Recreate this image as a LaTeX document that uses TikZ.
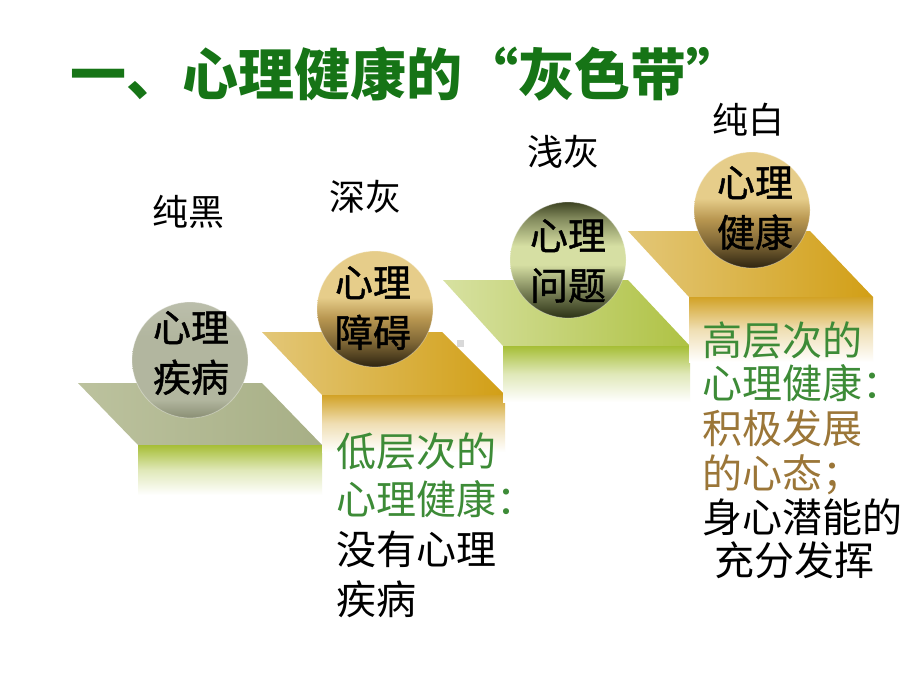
\documentclass[tikz,border=0pt]{standalone}
\usepackage{fontspec}
\newfontfamily\cjk{Noto Sans CJK SC}
\newfontfamily\cjkm[FakeBold=1.2]{Noto Sans CJK SC}
\definecolor{titlegreen}{HTML}{167416}
\definecolor{txtgreen}{HTML}{3D8B37}
\definecolor{txtbrown}{HTML}{9B7638}
\definecolor{sAl}{HTML}{BCC29E}
\definecolor{sAr}{HTML}{A7AF86}
\definecolor{goldL}{HTML}{E3C778}
\definecolor{goldR}{HTML}{D29F16}
\definecolor{grnL}{HTML}{D7E1A1}
\definecolor{grnR}{HTML}{AFC244}
\definecolor{frontgrn}{HTML}{A6BE36}
\definecolor{frontgold}{HTML}{D2A226}
\definecolor{ballgoldL}{HTML}{E6CD8A}
\definecolor{ballgoldM}{HTML}{B89650}
\definecolor{ballgoldD}{HTML}{2E2410}
\definecolor{ballgrnT}{HTML}{3D4322}
\definecolor{ballgrnM}{HTML}{D6DFA3}
\definecolor{ballgrnD}{HTML}{2C3216}
\definecolor{ballgrayT}{HTML}{BBBEAB}
\definecolor{ballgrayM}{HTML}{B2B69F}
\definecolor{ballgrayD}{HTML}{8A8F74}
\pgfdeclareverticalshading{goldball}{100bp}{color(0bp)=(ballgoldD); color(25bp)=(ballgoldD); color(36bp)=(ballgoldM!60!ballgoldD); color(46bp)=(ballgoldM); color(55bp)=(ballgoldL); color(100bp)=(ballgoldL)}
\pgfdeclareverticalshading{greenball}{100bp}{color(0bp)=(ballgrnD); color(25bp)=(ballgrnD); color(36bp)=(ballgrnM!45!ballgrnD); color(48bp)=(ballgrnM); color(56bp)=(ballgrnM); color(68bp)=(ballgrnM!45!ballgrnT); color(75bp)=(ballgrnT); color(100bp)=(ballgrnT)}
\pgfdeclareverticalshading{grayball}{100bp}{color(0bp)=(ballgrayD); color(25bp)=(ballgrayD); color(33bp)=(ballgrayM); color(60bp)=(ballgrayM); color(75bp)=(ballgrayT); color(100bp)=(ballgrayT)}
\tikzset{
  lbl/.style={font=\cjk\fontsize{36}{40}\selectfont, text=black, inner sep=0pt},
  ctext/.style={font=\cjkm\fontsize{38}{50}\selectfont, text=black, align=center, inner sep=0pt},
  body/.style={font=\cjk\fontsize{40}{44}\selectfont, anchor=base west, inner sep=0pt},
  ball/.style={draw=white, draw opacity=0.35, line width=0.8pt}
}
\begin{document}
\begin{tikzpicture}[x=1pt,y=-1pt]
\useasboundingbox (0,0) rectangle (920,690);
\fill[white] (0,0) rectangle (920,690);

% title
\node[font=\cjk\bfseries\fontsize{56}{60}\selectfont, text=titlegreen, anchor=base west, inner sep=0pt] (title) at (70,96) {一、心理健康的“灰色带”};

% step 1
\shade[left color=sAl, right color=sAr] (78,383) -- (262,383) -- (322,445) -- (138,445) -- cycle;
\shade[top color=frontgrn, bottom color=white, middle color=frontgrn!35] (138,445) rectangle (322,495);
% step 2
\shade[left color=goldL, right color=goldR] (262,332) -- (442,332) -- (505,395) -- (322,395) -- cycle;
\shade[top color=frontgold, bottom color=white, middle color=frontgold!35] (322,395) rectangle (505,452);
% step 3
\shade[left color=grnL, right color=grnR] (443,280) -- (628,280) -- (690,346) -- (503,346) -- cycle;
\shade[top color=frontgrn, bottom color=white, middle color=frontgrn!35] (503,346) rectangle (690,402);
% step 4
\shade[left color=goldL, right color=goldR] (628,231) -- (810,231) -- (873,297) -- (689,297) -- cycle;
\shade[top color=frontgold, bottom color=white, middle color=frontgold!35] (689,297) rectangle (873,362);

\fill[black!15] (457,340) rectangle (464,347);

% balls
\shade[shading=grayball, ball] (190,360) circle[radius=58];
\shade[shading=goldball, ball] (375,309) circle[radius=58];
\shade[shading=greenball, ball] (568,260) circle[radius=58];
\shade[shading=goldball, ball] (752,210) circle[radius=58];

\node[ctext] (b1) at (191,353) {心理\\疾病};
\node[ctext] (b2) at (373,308) {心理\\障碍};
\node[ctext] (b3) at (568,261) {心理\\问题};
\node[ctext] (b4) at (755,208) {心理\\健康};

% labels
\node[lbl] (l1) at (188,212) {纯黑};
\node[lbl] (l2) at (365,197) {深灰};
\node[lbl] (l3) at (563,152) {浅灰};
\node[lbl] (l4) at (748,120) {纯白};

% left text
\node[body, text=txtgreen] (a1) at (336,466) {低层次的};
\node[body, text=txtgreen] (a2) at (336,514) {心理健康：};
\node[body, text=black] (a3) at (336,564) {没有心理};
\node[body, text=black] (a4) at (336,614) {疾病};

% right text
\node[body, text=txtgreen] (r1) at (702,355) {高层次的};
\node[body, text=txtgreen] (r2) at (702,398) {心理健康：};
\node[body, text=txtbrown] (r3) at (702,443) {积极发展};
\node[body, text=txtbrown] (r4) at (702,488) {的心态；};
\node[body, text=black] (r5) at (702,532) {身心潜能的};
\node[body, text=black] (r6) at (714,575) {充分发挥};
\end{tikzpicture}
\end{document}
